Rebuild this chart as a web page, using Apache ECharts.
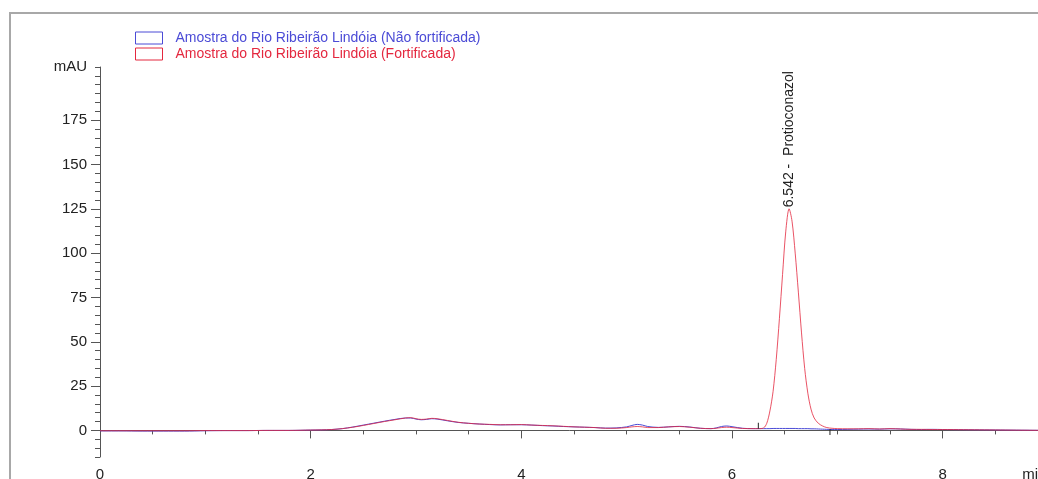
<!DOCTYPE html>
<html>
<head>
<meta charset="utf-8">
<title>Cromatograma</title>
<script src="https://cdn.jsdelivr.net/npm/echarts@6/dist/echarts.min.js"></script>
<style>
  html, body { margin: 0; padding: 0; background: #fff; }
  #chart { width: 1038px; height: 479px; }
</style>
</head>
<body>
<div id="chart"></div>
<script>
// tempo de retenção (min)
var times = [
  0, 0.2, 0.4, 0.6, 0.8, 1.0, 1.2, 1.4, 1.6, 1.8,
  2.0, 2.1, 2.2, 2.3, 2.4, 2.5, 2.6, 2.7, 2.8, 2.9,
  2.95, 3.0, 3.05, 3.1, 3.15, 3.2, 3.3, 3.4, 3.5, 3.6,
  3.7, 3.8, 3.9, 4.0, 4.1, 4.2, 4.3, 4.4, 4.5, 4.6,
  4.7, 4.8, 4.9, 5.0, 5.05, 5.1, 5.15, 5.2, 5.3, 5.4,
  5.5, 5.6, 5.7, 5.8, 5.85, 5.9, 5.95, 6.0, 6.1, 6.2,
  6.25, 6.3, 6.33, 6.36, 6.39, 6.42, 6.45, 6.48, 6.51, 6.542,
  6.57, 6.6, 6.63, 6.66, 6.69, 6.72, 6.75, 6.78, 6.82, 6.86,
  6.9, 6.95, 7.0, 7.1, 7.2, 7.3, 7.4, 7.5, 7.6, 7.7,
  7.8, 7.9, 8.0, 8.2, 8.4, 8.6, 8.8, 9.0
];

// mAU - amostra não fortificada
var blankValues = [
  -0.3, -0.3, -0.4, -0.4, -0.4, -0.2, -0.1, -0.1, 0, 0,
  0.2, 0.3, 0.5, 1.0, 1.9, 3.0, 4.1, 5.2, 6.2, 7.0,
  7.0, 6.4, 6.0, 6.2, 6.6, 6.4, 5.4, 4.5, 4.0, 3.6,
  3.3, 3.1, 3.2, 3.2, 3.0, 2.7, 2.5, 2.2, 2.0, 1.8,
  1.6, 1.3, 1.4, 2.0, 2.8, 3.4, 3.0, 2.2, 1.7, 2.0,
  2.3, 1.9, 1.2, 1.0, 1.4, 2.2, 2.5, 2.1, 1.2, 1.0,
  1.0, 1.0, 1.0, 1.0, 1.1, 1.1, 1.1, 1.1, 1.1, 1.1,
  1.1, 1.1, 1.0, 1.0, 1.0, 1.0, 0.9, 0.9, 0.8, 0.7,
  0.6, 0.5, 0.5, 0.6, 0.7, 0.8, 0.7, 0.9, 0.8, 0.6,
  0.5, 0.6, 0.5, 0.4, 0.3, 0.2, 0.1, 0
];

// mAU - amostra fortificada
var fortifiedValues = [
  -0.2, -0.2, -0.2, -0.2, -0.2, -0.1, -0.1, -0.1, 0, 0,
  0.2, 0.3, 0.5, 1.0, 1.8, 2.8, 3.9, 5.0, 6.0, 7.0,
  7.2, 6.6, 6.2, 6.4, 6.8, 6.6, 5.6, 4.6, 4.0, 3.6,
  3.4, 3.2, 3.2, 3.3, 3.0, 2.8, 2.6, 2.3, 2.0, 1.8,
  1.6, 1.2, 1.2, 1.6, 2.0, 2.2, 2.0, 1.6, 1.6, 2.0,
  2.2, 1.8, 1.2, 1.0, 1.2, 1.6, 1.8, 1.6, 1.1, 1.0,
  1.0, 1.4, 4, 11, 22, 40, 63, 88, 112, 125,
  118, 100, 78, 55, 35, 21, 12, 7, 4, 2.5,
  1.6, 1.2, 1.0, 0.9, 0.9, 1.0, 0.8, 1.0, 0.8, 0.6,
  0.6, 0.5, 0.5, 0.4, 0.3, 0.2, 0.1, 0
];

var seriesNames = [
  'Amostra do Rio Ribeirão Lindóia (Não fortificada)',
  'Amostra do Rio Ribeirão Lindóia (Fortificada)'
];

var peakTime = 6.542;
var peakHeight = 125;
var peakName = 'Protioconazol';
var integrationMarks = [[6.25, 1.0], [6.93, 0.8]];

var xMajorTicks = [0, 2, 4, 6, 8];
var xMinorTicks = [0.5, 1, 1.5, 2.5, 3, 3.5, 4.5, 5, 5.5, 6.5, 7, 7.5, 8.5];
var yMajorTicks = [0, 25, 50, 75, 100, 125, 150, 175];
var yMinorTicks = [];
for (var v = -15; v <= 205; v += 5) yMinorTicks.push(v);

var FONT = '"Liberation Sans", Arial, sans-serif';
var BLUE = '#4b4bd6';
var RED = '#e4283f';
var AXIS = '#555';

function pairs(vals) {
  return times.map(function(t, i) { return [t, vals[i]]; });
}

var chart = echarts.init(document.getElementById('chart'));

var option = {
  animation: false,
  backgroundColor: '#fff',
  graphic: [{
    type: 'rect',
    shape: { x: 10, y: 13, width: 1100, height: 600 },
    style: { fill: 'none', stroke: '#a8a8a8', lineWidth: 2 },
    silent: true
  }],
  legend: {
    orient: 'vertical',
    left: 135,
    top: 31,
    padding: 0,
    itemWidth: 27,
    itemHeight: 12,
    itemGap: 2,
    icon: 'rect',
    itemStyle: { color: '#fff', borderWidth: 1 },
    textStyle: { fontFamily: FONT, fontSize: 14, padding: [0, 0, 0, 8] },
    data: [
      { name: seriesNames[0], itemStyle: { color: '#fff', borderColor: BLUE }, textStyle: { color: BLUE } },
      { name: seriesNames[1], itemStyle: { color: '#fff', borderColor: RED }, textStyle: { color: RED } }
    ]
  },
  grid: { left: 100, top: 67, width: 948, height: 390, outerBoundsMode: 'none' },
  xAxis: [{
    type: 'value',
    min: 0,
    max: 9,
    axisLine: { lineStyle: { color: AXIS, width: 1 } },
    axisTick: { customValues: xMajorTicks, length: 8, lineStyle: { color: AXIS } },
    axisLabel: {
      customValues: xMajorTicks.concat([8.87]),
      formatter: function(val) { return val > 8.5 ? 'min' : String(val); },
      margin: 10,
      color: '#222',
      fontSize: 15,
      fontFamily: FONT
    },
    splitLine: { show: false }
  }, {
    type: 'value',
    min: 0,
    max: 9,
    position: 'bottom',
    axisLine: { show: false },
    axisTick: { customValues: xMinorTicks, length: 4, lineStyle: { color: AXIS } },
    axisLabel: { show: false },
    splitLine: { show: false }
  }],
  yAxis: [{
    type: 'value',
    min: -15,
    max: 205,
    axisLine: { show: true, lineStyle: { color: AXIS, width: 1 } },
    axisTick: { show: true, customValues: yMajorTicks, length: 9, lineStyle: { color: AXIS } },
    axisLabel: {
      customValues: yMajorTicks.concat([205]),
      formatter: function(val) { return val === 205 ? 'mAU' : String(val); },
      margin: 13,
      color: '#222',
      fontSize: 15,
      fontFamily: FONT
    },
    splitLine: { show: false }
  }, {
    type: 'value',
    min: -15,
    max: 205,
    position: 'left',
    axisLine: { show: false },
    axisTick: { show: true, customValues: yMinorTicks, length: 5, lineStyle: { color: AXIS } },
    axisLabel: { show: false },
    splitLine: { show: false }
  }],
  series: [{
    name: seriesNames[0],
    type: 'line',
    data: pairs(blankValues),
    showSymbol: false,
    smooth: 0.3,
    color: BLUE,
    lineStyle: { width: 1, color: BLUE },
    z: 2
  }, {
    name: seriesNames[1],
    type: 'line',
    data: pairs(fortifiedValues),
    showSymbol: false,
    smooth: 0.3,
    color: RED,
    lineStyle: { width: 1, color: RED, opacity: 0.8 },
    z: 3,
    markPoint: {
      silent: true,
      data: [{
        coord: [peakTime, peakHeight],
        symbol: 'circle',
        symbolSize: 1,
        itemStyle: { color: 'transparent' },
        label: {
          show: true,
          formatter: peakTime.toFixed(3) + ' -  ' + peakName,
          position: 'top',
          distance: 1,
          rotate: 90,
          align: 'left',
          verticalAlign: 'middle',
          color: '#222',
          fontSize: 14,
          fontFamily: FONT
        }
      }].concat(integrationMarks.map(function(m, i) {
        return {
          coord: m,
          symbol: 'rect',
          symbolSize: [1, 6],
          symbolOffset: [0, i === 0 ? -3 : 3],
          itemStyle: { color: '#222' },
          label: { show: false }
        };
      }))
    }
  }]
};

chart.setOption(option);
</script>
</body>
</html>
